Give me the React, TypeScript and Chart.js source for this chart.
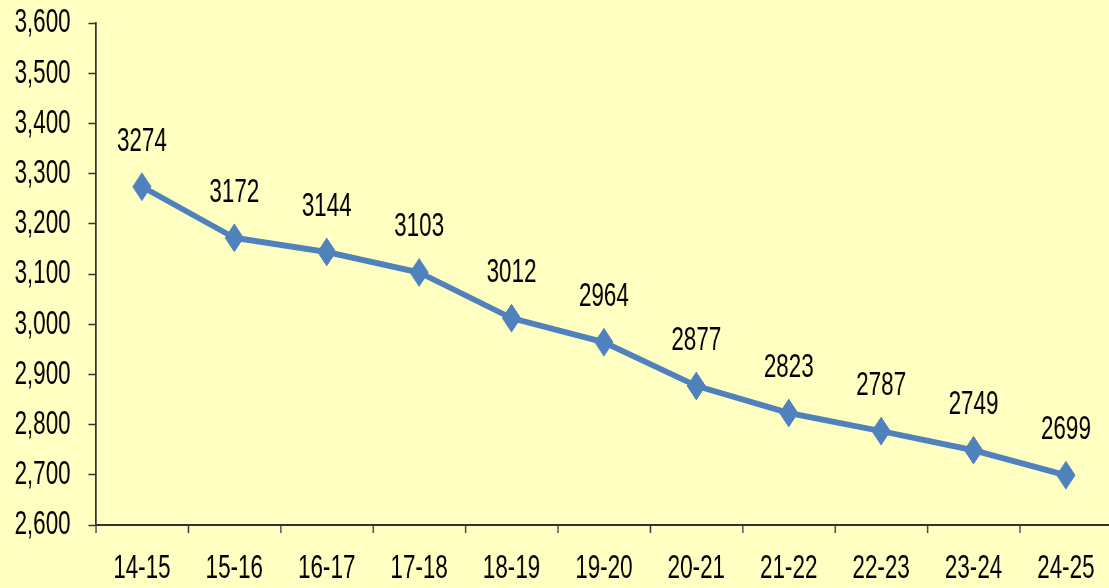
import React, { useEffect, useRef } from 'react';
import { Chart, registerables } from 'chart.js';

Chart.register(...registerables);

const categories = ['14-15', '15-16', '16-17', '17-18', '18-19', '19-20', '20-21', '21-22', '22-23', '23-24', '24-25'];
const values = [3274, 3172, 3144, 3103, 3012, 2964, 2877, 2823, 2787, 2749, 2699];
const yMin = 2600;
const yMax = 3600;
const yStep = 100;

const SX = 0.66; // horizontal condensation of the whole drawing
const CW = 1700;
const CH = 588;
const FONT = '"Liberation Sans", Arial, sans-serif';
const BG = '#FFFFC2';
const BLUE = '#4F81BD';
const AXIS = '#333333';

const valueLabels = {
  id: 'valueLabels',
  afterDatasetsDraw(chart: any) {
    const ctx = chart.ctx;
    const meta = chart.getDatasetMeta(0);
    ctx.save();
    ctx.font = `34px ${FONT}`;
    ctx.fillStyle = '#000000';
    ctx.textAlign = 'center';
    ctx.textBaseline = 'alphabetic';
    meta.data.forEach((pt: any, i: number) => {
      ctx.fillText(String(values[i]), pt.x, pt.y - 36);
    });
    ctx.restore();
  },
};

export default function App() {
  const ref = useRef<HTMLCanvasElement>(null);

  useEffect(() => {
    if (!ref.current) return;
    const chart = new Chart(ref.current, {
      type: 'line',
      data: {
        labels: categories,
        datasets: [
          {
            data: values,
            borderColor: BLUE,
            backgroundColor: BLUE,
            borderWidth: 6,
            pointStyle: 'rectRot',
            pointRadius: 14,
            pointBorderWidth: 1,
            pointBackgroundColor: BLUE,
            pointBorderColor: BLUE,
            tension: 0,
            clip: false,
          },
        ],
      },
      options: {
        responsive: false,
        devicePixelRatio: 1,
        animation: false,
        layout: { padding: { top: 23, right: 9, left: 0, bottom: 0 } },
        plugins: {
          legend: { display: false },
          tooltip: { enabled: false },
        },
        scales: {
          x: {
            type: 'category',
            offset: true,
            grid: {
              offset: true,
              drawOnChartArea: false,
              drawTicks: true,
              tickLength: 8,
              tickColor: AXIS,
              tickWidth: 2,
            },
            border: { display: true, color: AXIS, width: 2 },
            ticks: {
              color: '#000000',
              font: { family: FONT, size: 34 },
              padding: 15,
              maxRotation: 0,
              autoSkip: false,
            },
            afterFit: (s: any) => {
              s.height = 63;
              s.paddingLeft = 0;
              s.paddingRight = 0;
            },
          },
          y: {
            min: yMin,
            max: yMax,
            grid: {
              drawOnChartArea: false,
              drawTicks: true,
              tickLength: 11,
              tickColor: AXIS,
              tickWidth: 1.5,
            },
            border: { display: true, color: AXIS, width: 2.6 },
            ticks: {
              stepSize: yStep,
              color: '#000000',
              font: { family: FONT, size: 34 },
              padding: 27,
              callback: (v: any) => Number(v).toLocaleString('en-US'),
            },
            afterFit: (s: any) => {
              s.width = 145;
              s.paddingTop = 0;
              s.paddingBottom = 0;
            },
          },
        },
      },
      plugins: [valueLabels],
    });
    return () => chart.destroy();
  }, []);

  return (
    <div
      style={{
        position: 'fixed',
        left: 0,
        top: 0,
        width: 1109,
        height: 588,
        overflow: 'hidden',
        background: BG,
      }}
    >
      <canvas
        ref={ref}
        width={CW}
        height={CH}
        style={{
          width: `${CW}px`,
          height: `${CH}px`,
          display: 'block',
          transform: `scaleX(${SX})`,
          transformOrigin: '0 0',
        }}
      />
    </div>
  );
}
